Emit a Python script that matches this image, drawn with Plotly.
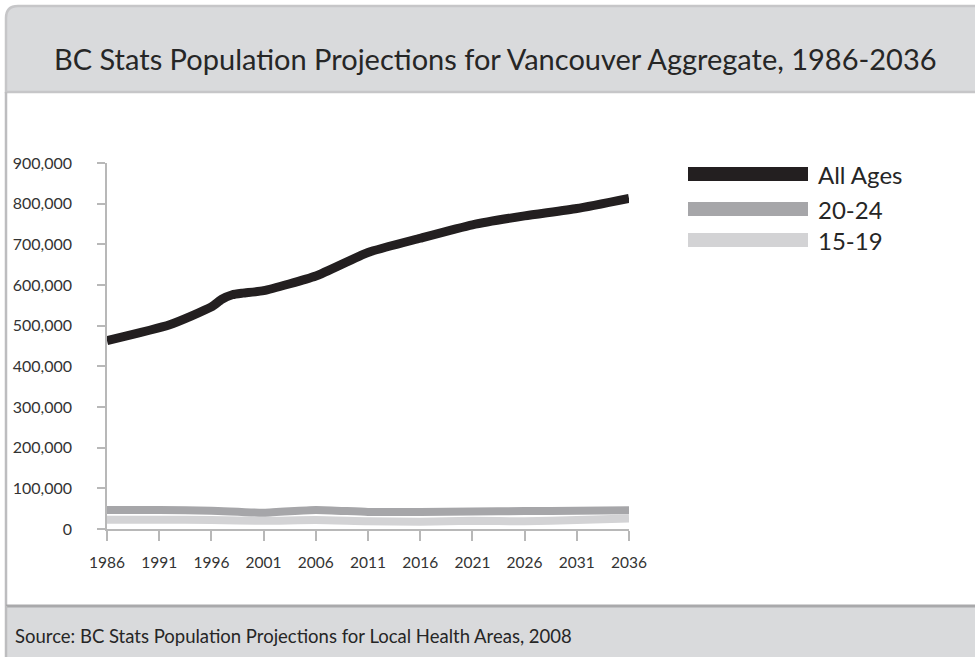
import plotly.graph_objects as go

# Population projections, Vancouver aggregate
years_all = [1986, 1992, 1996, 1997, 1998, 1999, 2001, 2006, 2011, 2016, 2021, 2026, 2031, 2036]
all_ages = [463000, 502000, 546000, 565000, 576000, 580000, 586000, 622000, 680000, 715000,
            748000, 770000, 788000, 813000]

years_5 = [1986, 1991, 1996, 2001, 2006, 2011, 2016, 2021, 2026, 2031, 2036]
age_20_24 = [47000, 47000, 45000, 40000, 47000, 42000, 42000, 43000, 44000, 45000, 46000]
age_15_19 = [23000, 23000, 22000, 20000, 22000, 19000, 18000, 20000, 19000, 22000, 26000]

series_names = ["All Ages", "20-24", "15-19"]
series_colors = ["#231f20", "#a6a6a9", "#d3d3d5"]

y_ticks = list(range(0, 900001, 100000))
x_ticks = years_5

title_text = "BC Stats Population Projections for Vancouver Aggregate, 1986-2036"
source_text = "Source: BC Stats Population Projections for Local Health Areas, 2008"

W, H = 975, 657
L, R, T, B = 107, 346, 163, 128
PW, PH = W - L - R, H - T - B
FONT = "Lato, 'Open Sans', sans-serif"


def px(x):
    return (x - L) / PW


def py(y):
    return (H - B - y) / PH


fig = go.Figure()
fig.add_trace(go.Scatter(x=years_5, y=age_15_19, mode="lines", name=series_names[2],
                         line=dict(color=series_colors[2], width=8, shape="spline", smoothing=0.6),
                         showlegend=False))
fig.add_trace(go.Scatter(x=years_5, y=age_20_24, mode="lines", name=series_names[1],
                         line=dict(color=series_colors[1], width=8, shape="spline", smoothing=0.6),
                         showlegend=False))
fig.add_trace(go.Scatter(x=years_all, y=all_ages, mode="lines", name=series_names[0],
                         line=dict(color=series_colors[0], width=9, shape="spline", smoothing=0.5),
                         showlegend=False))

shapes = []
# title band with rounded top-left corner
r = 12
shapes.append(dict(
    type="path", xref="paper", yref="paper", layer="below",
    path=(f"M {px(6)} {py(92)} L {px(6)} {py(6 + r)} "
          f"Q {px(6)} {py(6)} {px(6 + r)} {py(6)} "
          f"L {px(990)} {py(6)} L {px(990)} {py(92)} Z"),
    fillcolor="#d9dadc", line=dict(color="#c6c6c8", width=2.5)))
# left border of the white body
shapes.append(dict(type="line", xref="paper", yref="paper", layer="below",
                   x0=px(6), x1=px(6), y0=py(92), y1=py(606),
                   line=dict(color="#bdbdbf", width=2.5)))
# footer band
shapes.append(dict(type="rect", xref="paper", yref="paper", layer="below",
                   x0=px(6), x1=px(990), y0=py(606), y1=py(670),
                   fillcolor="#d9dadc", line=dict(width=0)))
shapes.append(dict(type="line", xref="paper", yref="paper", layer="below",
                   x0=px(6), x1=px(990), y0=py(606), y1=py(606),
                   line=dict(color="#a9a9ab", width=3)))
shapes.append(dict(type="line", xref="paper", yref="paper", layer="below",
                   x0=px(6), x1=px(6), y0=py(606), y1=py(670),
                   line=dict(color="#bdbdbf", width=2.5)))

annotations = [
    dict(text=title_text, xref="paper", yref="paper", x=px(52), y=py(59),
         xanchor="left", yanchor="middle", showarrow=False,
         font=dict(family=FONT, size=29, color="#262626")),
    dict(text=source_text, xref="paper", yref="paper", x=px(13), y=py(636),
         xanchor="left", yanchor="middle", showarrow=False,
         font=dict(family=FONT, size=18.5, color="#262626")),
]

# legend: long swatches with labels
legend_rows = [174, 209, 240]
legend_thick = [14, 14, 14]
for name, color, yy, th in zip(series_names, series_colors, legend_rows, legend_thick):
    shapes.append(dict(type="rect", xref="paper", yref="paper",
                       x0=px(688), x1=px(808), y0=py(yy - th / 2), y1=py(yy + th / 2),
                       fillcolor=color, line=dict(width=0)))
    annotations.append(dict(text=name, xref="paper", yref="paper", x=px(816), y=py(yy),
                            xanchor="left", yanchor="middle", showarrow=False,
                            font=dict(family=FONT, size=24, color="#262626")))

fig.update_layout(
    width=W, height=H,
    margin=dict(l=L, r=R, t=T, b=B, pad=0),
    paper_bgcolor="white", plot_bgcolor="rgba(0,0,0,0)",
    shapes=shapes, annotations=annotations,
    showlegend=False,
    font=dict(family=FONT, color="#333333"),
)
fig.update_xaxes(
    range=[1986, 2036], tickvals=x_ticks, ticktext=[str(v) for v in x_ticks],
    showgrid=False, zeroline=False, showline=True, linecolor="#b8b8b8", linewidth=1.5,
    ticks="outside", ticklen=10, tickcolor="#b8b8b8", tickwidth=1.5,
    ticklabelstandoff=9, tickfont=dict(family=FONT, size=15.5, color="#333333"),
)
fig.update_yaxes(
    range=[0, 900000], tickvals=y_ticks, tickformat=",d",
    showgrid=False, zeroline=False, showline=True, linecolor="#b8b8b8", linewidth=1.5,
    ticks="outside", ticklen=8, tickcolor="#b8b8b8", tickwidth=1.5,
    ticklabelstandoff=22, tickfont=dict(family=FONT, size=16, color="#333333"),
)

fig.write_html("out.html")
